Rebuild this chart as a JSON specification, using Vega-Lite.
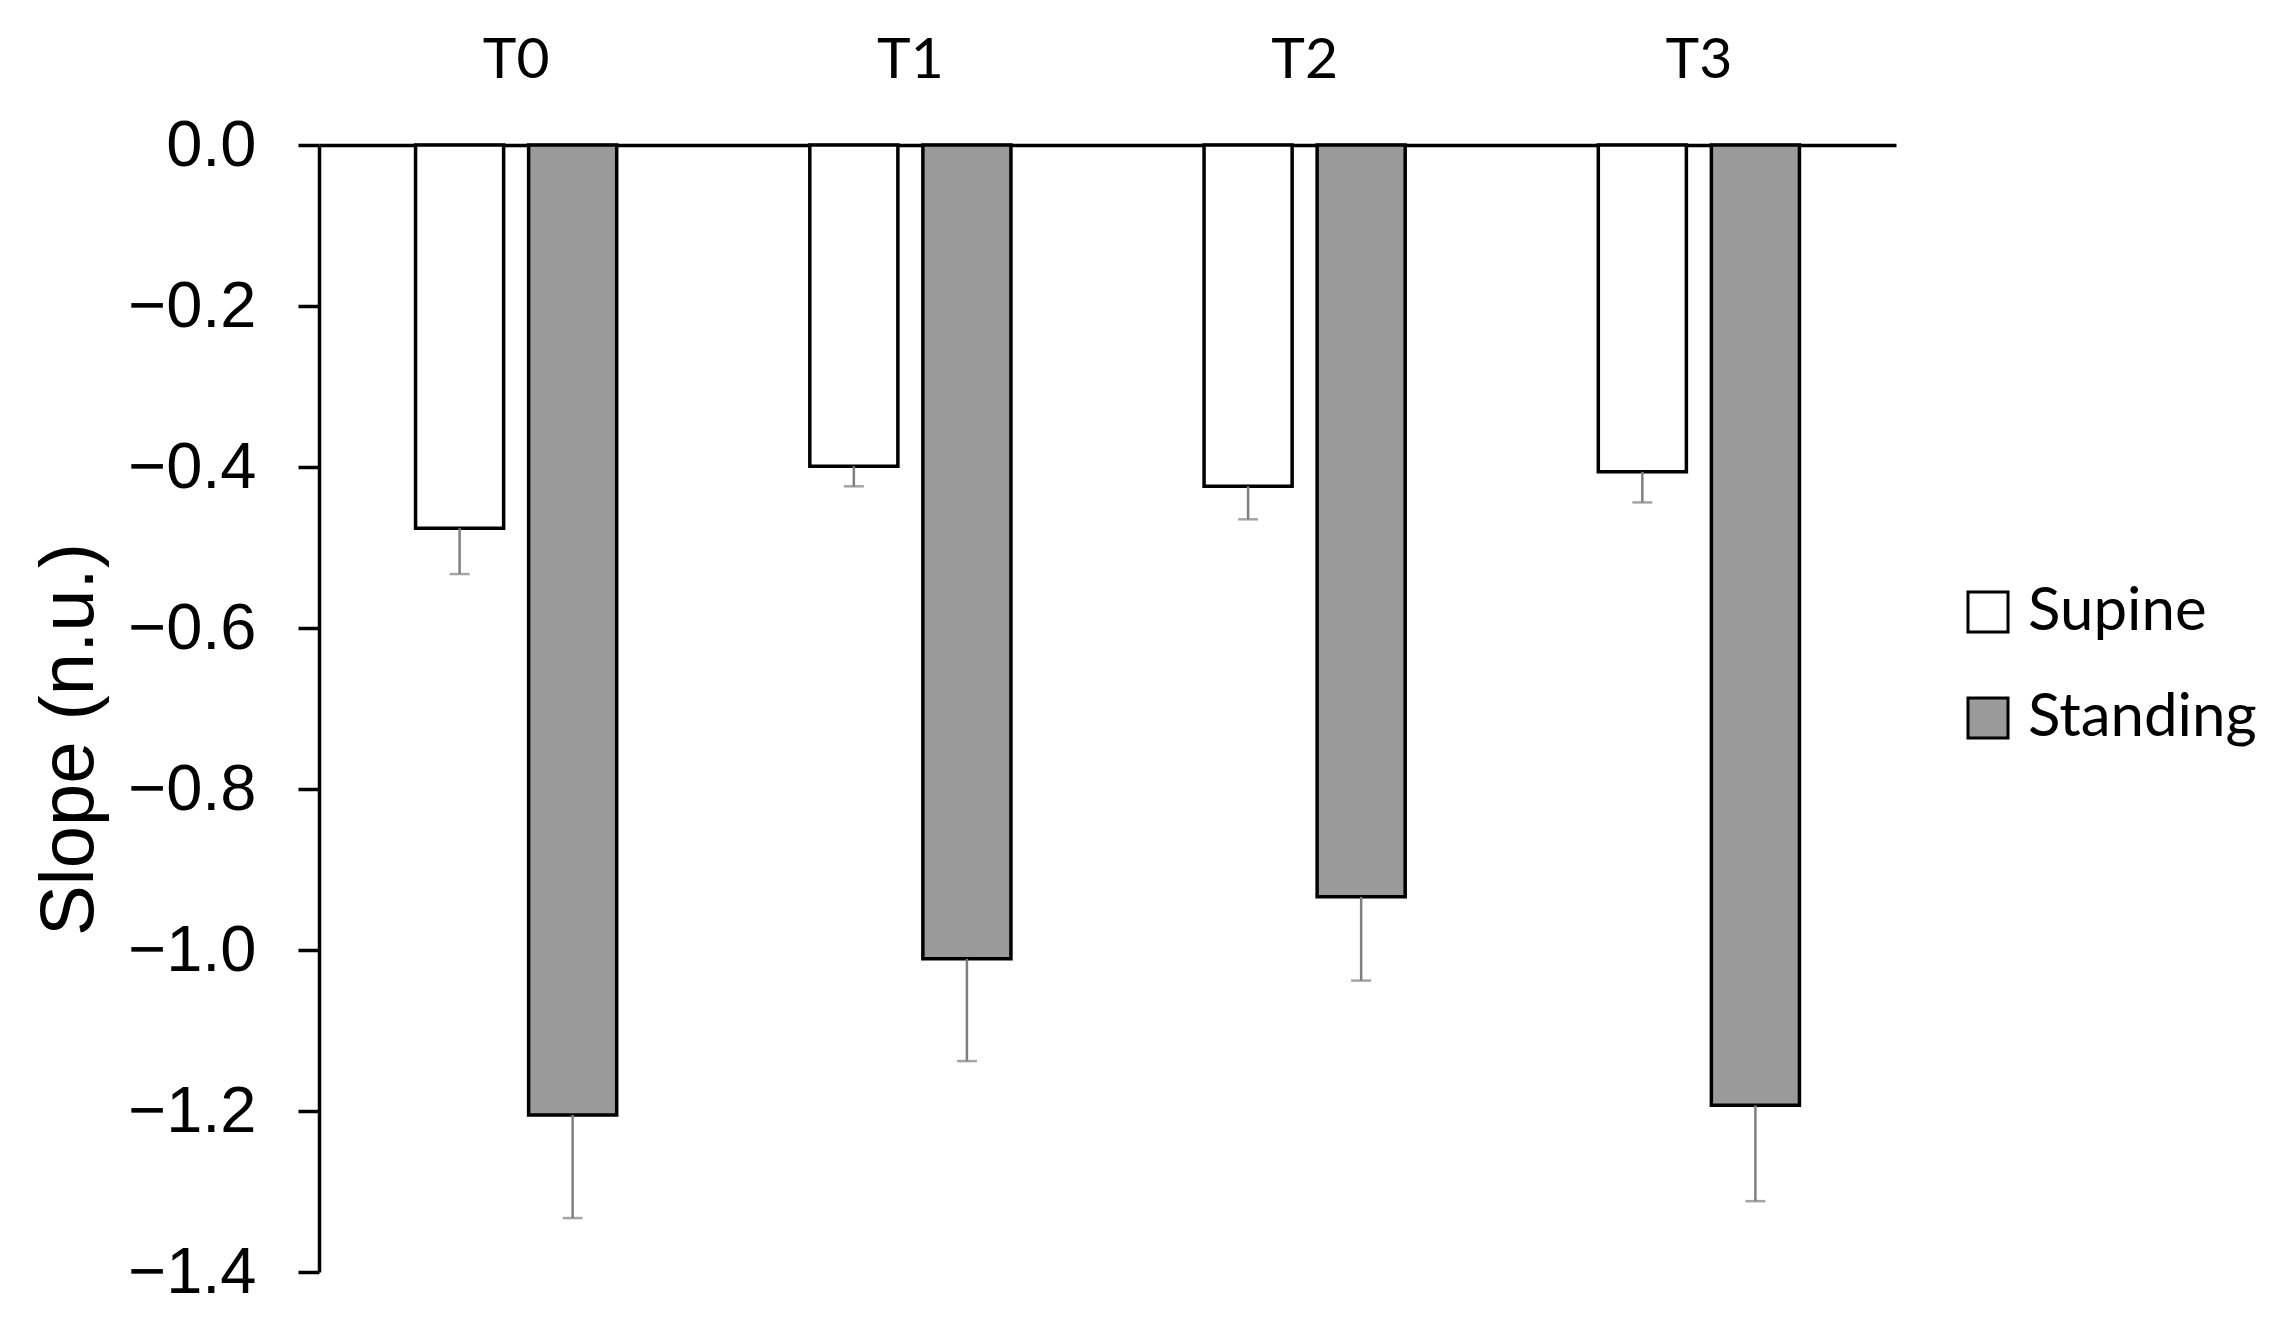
{
  "$schema": "https://vega.github.io/schema/vega-lite/v6.json",
  "width": 1577,
  "height": 1127,
  "autosize": {"type": "none"},
  "padding": {"left": 319, "top": 145, "right": 400, "bottom": 48},
  "background": "white",
  "config": {"view": {"stroke": null}, "font": "Liberation Sans"},
  "data": {
    "values": [
      {"time": "T0", "position": "Supine", "slope": -0.476, "low": -0.533},
      {"time": "T0", "position": "Standing", "slope": -1.205, "low": -1.333},
      {"time": "T1", "position": "Supine", "slope": -0.399, "low": -0.424},
      {"time": "T1", "position": "Standing", "slope": -1.011, "low": -1.138},
      {"time": "T2", "position": "Supine", "slope": -0.424, "low": -0.465},
      {"time": "T2", "position": "Standing", "slope": -0.934, "low": -1.038},
      {"time": "T3", "position": "Supine", "slope": -0.406, "low": -0.444},
      {"time": "T3", "position": "Standing", "slope": -1.193, "low": -1.312}
    ]
  },
  "encoding": {
    "x": {
      "field": "time",
      "type": "nominal",
      "sort": ["T0", "T1", "T2", "T3"],
      "scale": {"paddingInner": 0, "paddingOuter": 0},
      "axis": {
        "orient": "top",
        "title": null,
        "domainColor": "black",
        "domainWidth": 3.5,
        "ticks": false,
        "tickSize": 0,
        "labelAngle": 0,
        "labelFont": "Lato",
        "labelFontSize": 57,
        "labelColor": "black",
        "labelPadding": 68,
        "labelBaseline": "alphabetic"
      }
    },
    "xOffset": {
      "field": "position",
      "type": "nominal",
      "sort": ["Supine", "Standing"],
      "scale": {"paddingInner": 0.221, "paddingOuter": 0.854}
    }
  },
  "layer": [
    {
      "mark": {"type": "bar", "stroke": "black", "strokeWidth": 3.5},
      "encoding": {
        "y": {
          "field": "slope",
          "type": "quantitative",
          "scale": {"domain": [-1.4, 0], "nice": false, "zero": false},
          "axis": {
            "orient": "left",
            "title": "Slope (n.u.)",
            "format": ".1f",
            "values": [0, -0.2, -0.4, -0.6, -0.8, -1.0, -1.2, -1.4],
            "grid": false,
            "domainColor": "black",
            "domainWidth": 3.5,
            "tickColor": "black",
            "tickWidth": 3.5,
            "tickSize": 21,
            "labelFont": "Liberation Sans",
            "labelFontSize": 65,
            "labelColor": "black",
            "labelPadding": 42,
            "titleFont": "Liberation Sans",
            "titleFontSize": 76,
            "titleFontWeight": "normal",
            "titleColor": "black",
            "titleX": -227,
            "titleY": 594,
            "titleAngle": -90,
            "titleBaseline": "alphabetic",
            "titleAlign": "center"
          }
        },
        "fill": {
          "field": "position",
          "type": "nominal",
          "sort": ["Supine", "Standing"],
          "scale": {"domain": ["Supine", "Standing"], "range": ["white", "#9a9a9a"]},
          "legend": {
            "orient": "none",
            "legendX": 1639,
            "legendY": 437,
            "title": null,
            "symbolType": "square",
            "symbolSize": 1600,
            "symbolStrokeColor": "black",
            "symbolStrokeWidth": 3,
            "labelFont": "Lato",
            "labelFontSize": 60,
            "labelColor": "black",
            "labelOffset": 10,
            "labelLimit": 500,
            "rowPadding": 46
          }
        }
      }
    },
    {
      "mark": {"type": "rule", "color": "#7f7f7f", "strokeWidth": 2.5},
      "encoding": {
        "y": {"field": "slope", "type": "quantitative"},
        "y2": {"field": "low"}
      }
    },
    {
      "mark": {"type": "tick", "color": "#7f7f7f", "thickness": 2.5, "size": 20, "orient": "horizontal"},
      "encoding": {
        "y": {"field": "low", "type": "quantitative"}
      }
    }
  ]
}
